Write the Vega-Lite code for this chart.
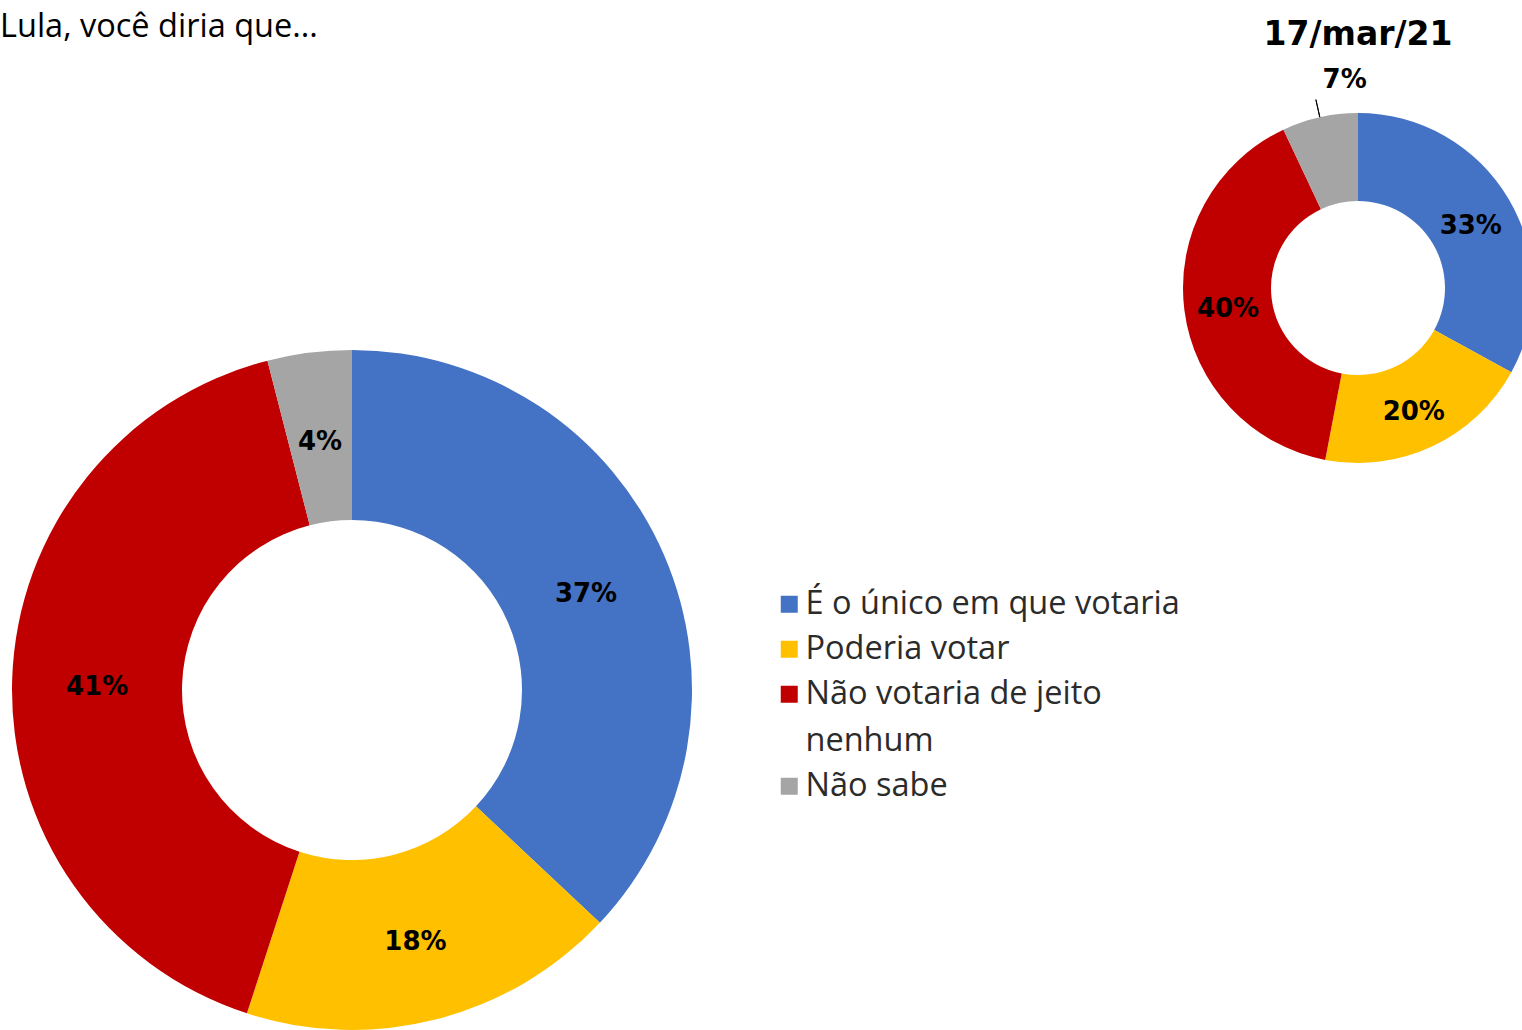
{
  "$schema": "https://vega.github.io/schema/vega-lite/v6.json",
  "background": "white",
  "padding": {"left": 0, "top": 11, "right": 0, "bottom": 0},
  "bounds": "full",
  "spacing": -15,
  "config": {"view": {"stroke": null}, "title": {"color": "#000000"}, "style": {"guide-label": {"lineHeight": 47}}},
  "resolve": {"scale": {"color": "independent", "theta": "independent"}, "legend": {"color": "independent"}},
  "datasets": {
    "atual": [
      {"resposta": "É o único em que votaria", "pct": 37, "ordem": 1},
      {"resposta": "Poderia votar", "pct": 18, "ordem": 2},
      {"resposta": "Não votaria de jeito nenhum", "pct": 41, "ordem": 3},
      {"resposta": "Não sabe", "pct": 4, "ordem": 4}
    ],
    "mar21": [
      {"resposta": "É o único em que votaria", "pct": 33, "ordem": 1},
      {"resposta": "Poderia votar", "pct": 20, "ordem": 2},
      {"resposta": "Não votaria de jeito nenhum", "pct": 40, "ordem": 3},
      {"resposta": "Não sabe", "pct": 7, "ordem": 4}
    ]
  },
  "hconcat": [
    {
      "width": 704,
      "height": 680,
      "title": {"text": "Lula, você diria que...", "anchor": "start", "frame": "group", "offset": 306.5, "font": "Open Sans", "fontSize": 32.5, "fontWeight": "normal", "color": "#000000"},
      "data": {"name": "atual"},
      "transform": [{"calculate": "datum.pct + '%'", "as": "rotulo"}],
      "encoding": {
        "theta": {"field": "pct", "type": "quantitative", "stack": true},
        "order": {"field": "ordem", "type": "quantitative"}
      },
      "layer": [
        {
          "mark": {"type": "arc", "innerRadius": 170, "outerRadius": 340},
          "encoding": {
            "color": {
              "field": "resposta", "type": "nominal",
              "scale": {"domain": ["É o único em que votaria", "Poderia votar", "Não votaria de jeito nenhum", "Não sabe"], "range": ["#4472C4", "#FFC000", "#C00000", "#A5A5A5"]},
              "legend": {
                "title": null, "orient": "none", "legendX": 773, "legendY": 238, "padding": 0,
                "symbolType": "square", "symbolSize": 289, "symbolStrokeWidth": 0,
                "labelFont": "Open Sans", "labelFontSize": 32.5, "labelColor": "#2b2b2b", "labelLimit": 600, "labelOffset": 0,
                "rowPadding": 12,
                "labelExpr": "datum.label == 'Não votaria de jeito nenhum' ? ['Não votaria de jeito', 'nenhum'] : datum.label"
              }
            }
          }
        },
        {
          "mark": {"type": "text", "radius": 255, "dy": 5, "font": "DejaVu Sans", "fontSize": 26, "fontWeight": "bold", "color": "#000000"},
          "encoding": {
            "text": {"field": "rotulo", "type": "nominal"},
            "detail": {"field": "resposta", "type": "nominal"}
          }
        }
      ]
    },
    {
      "width": 350,
      "height": 350,
      "title": {"text": "17/mar/21", "anchor": "middle", "offset": 15, "font": "DejaVu Sans", "fontSize": 33, "fontWeight": "bold", "color": "#000000"},
      "data": {"name": "mar21"},
      "transform": [{"calculate": "datum.pct + '%'", "as": "rotulo"}],
      "encoding": {
        "theta": {"field": "pct", "type": "quantitative", "stack": true},
        "order": {"field": "ordem", "type": "quantitative"}
      },
      "layer": [
        {
          "mark": {"type": "arc", "innerRadius": 87, "outerRadius": 175, "yOffset": -237},
          "encoding": {
            "color": {
              "field": "resposta", "type": "nominal",
              "scale": {"domain": ["É o único em que votaria", "Poderia votar", "Não votaria de jeito nenhum", "Não sabe"], "range": ["#4472C4", "#FFC000", "#C00000", "#A5A5A5"]},
              "legend": null
            }
          }
        },
        {
          "mark": {"type": "text", "radius": 131, "dy": 5, "yOffset": -237, "font": "DejaVu Sans", "fontSize": 26, "fontWeight": "bold", "color": "#000000"},
          "encoding": {
            "text": {"condition": {"test": "datum.resposta === 'Não sabe'", "value": ""}, "field": "rotulo", "type": "nominal"},
            "detail": {"field": "resposta", "type": "nominal"}
          }
        },
        {
          "mark": {"type": "text", "radius": 208, "dx": 32, "dy": -5, "yOffset": -237, "font": "DejaVu Sans", "fontSize": 26, "fontWeight": "bold", "color": "#000000"},
          "encoding": {
            "text": {"condition": {"test": "datum.resposta !== 'Não sabe'", "value": ""}, "field": "rotulo", "type": "nominal"},
            "detail": {"field": "resposta", "type": "nominal"}
          }
        },
        {
          "mark": {"type": "arc", "innerRadius": 175, "outerRadius": 193, "padAngle": 1, "yOffset": -237, "filled": false, "stroke": "#000000", "strokeWidth": 1},
          "encoding": {
            "strokeOpacity": {"condition": {"test": "datum.resposta === 'Não sabe'", "value": 1}, "value": 0},
            "detail": {"field": "resposta", "type": "nominal"}
          }
        }
      ]
    }
  ]
}
